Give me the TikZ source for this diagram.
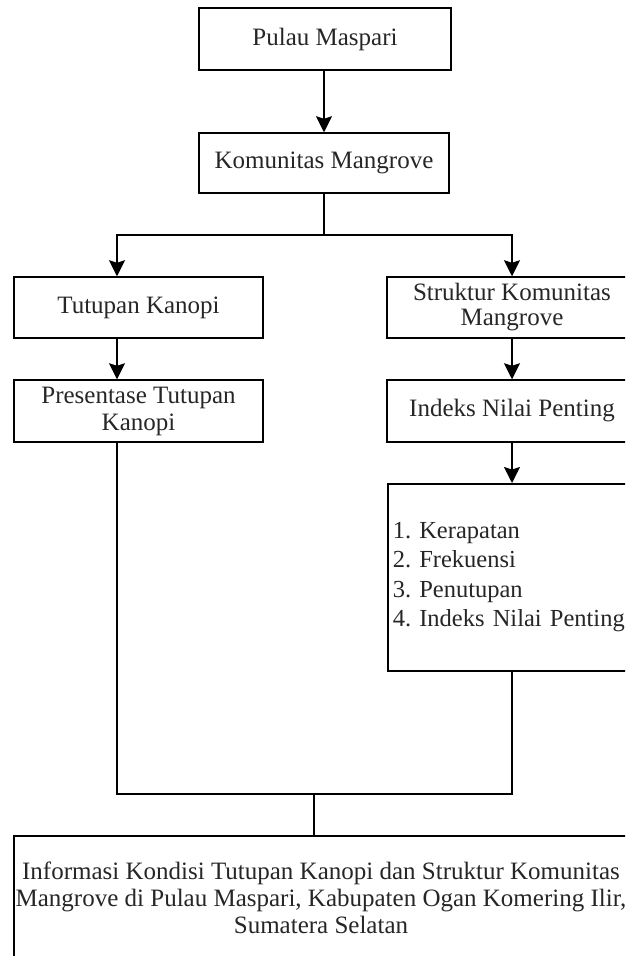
\documentclass[tikz,border=0pt]{standalone}
\usepackage{fontspec}
\setmainfont{Liberation Serif}
\usetikzlibrary{arrows.meta}
\tikzset{
  kotak/.style={draw, line width=1.5pt, inner sep=0pt, align=center,
                font=\fontsize{25}{27}\selectfont\frenchspacing, text=black!85},
  panah/.style={line width=1.5pt, -{Stealth[length=16pt, width=16pt, inset=2.5pt]}},
  garis/.style={line width=1.5pt}
}

\begin{document}
\begin{tikzpicture}[x=1pt, y=-1pt]
  \useasboundingbox (0,0) rectangle (625,956);
  \clip (0,0) rectangle (625,956);
  % kotak-kotak
  \node[kotak, minimum width=252pt, minimum height=62pt] (pulau) at (325,39) {Pulau Maspari};
  \node[kotak, minimum width=250pt, minimum height=60pt] (komunitas) at (324,163) {Komunitas Mangrove};
  \node[kotak, minimum width=249pt, minimum height=61pt] (tutupan) at (138.5,307.5) {Tutupan Kanopi};
  \node[kotak, minimum width=250pt, minimum height=61pt] (struktur) at (512,307.5) {Struktur Komunitas\\[-2pt]Mangrove};
  \node[kotak, minimum width=249pt, minimum height=62pt] (presentase) at (138.5,411) {Presentase Tutupan\\Kanopi};
  \node[kotak, minimum width=250pt, minimum height=62pt] (inp) at (512,411) {Indeks Nilai Penting};
  \node[kotak, anchor=north west, minimum height=187pt, text width=245pt, align=left,
        inner xsep=5pt, font=\fontsize{24.5}{29.5}\selectfont\frenchspacing] (daftar) at (387,483) {%
    1.~Kerapatan\\
    2.~Frekuensi\\
    3.~Penutupan\\
    4.~Indeks Nilai Penting};
  \node[kotak, minimum width=614pt, minimum height=124pt] (hasil) at (321,898) {%
    Informasi Kondisi Tutupan Kanopi dan Struktur Komunitas\\
    Mangrove di Pulau Maspari, Kabupaten Ogan Komering Ilir,\\
    Sumatera Selatan};
  % titik bantu
  \coordinate (kiri) at (117,0);
  \coordinate (cabang) at (324,235);
  \coordinate (gabung) at (512,794);
  \coordinate (tengah) at (314,794);
  % penghubung
  \draw[panah] (pulau.south -| komunitas.north) -- (komunitas.north);
  \draw[garis] (komunitas.south) -- (cabang);
  \draw[panah] (cabang) -| (tutupan.north -| kiri);
  \draw[panah] (cabang) -| (struktur.north);
  \draw[panah] (tutupan.south -| kiri) -- (presentase.north -| kiri);
  \draw[panah] (struktur.south) -- (inp.north);
  \draw[panah] (inp.south) -- (daftar.north -| inp.south);
  \draw[garis] (daftar.south -| inp.south) -- (gabung) -| (presentase.south -| kiri);
  \draw[garis] (tengah) -- (hasil.north -| tengah);
\end{tikzpicture}
\end{document}
